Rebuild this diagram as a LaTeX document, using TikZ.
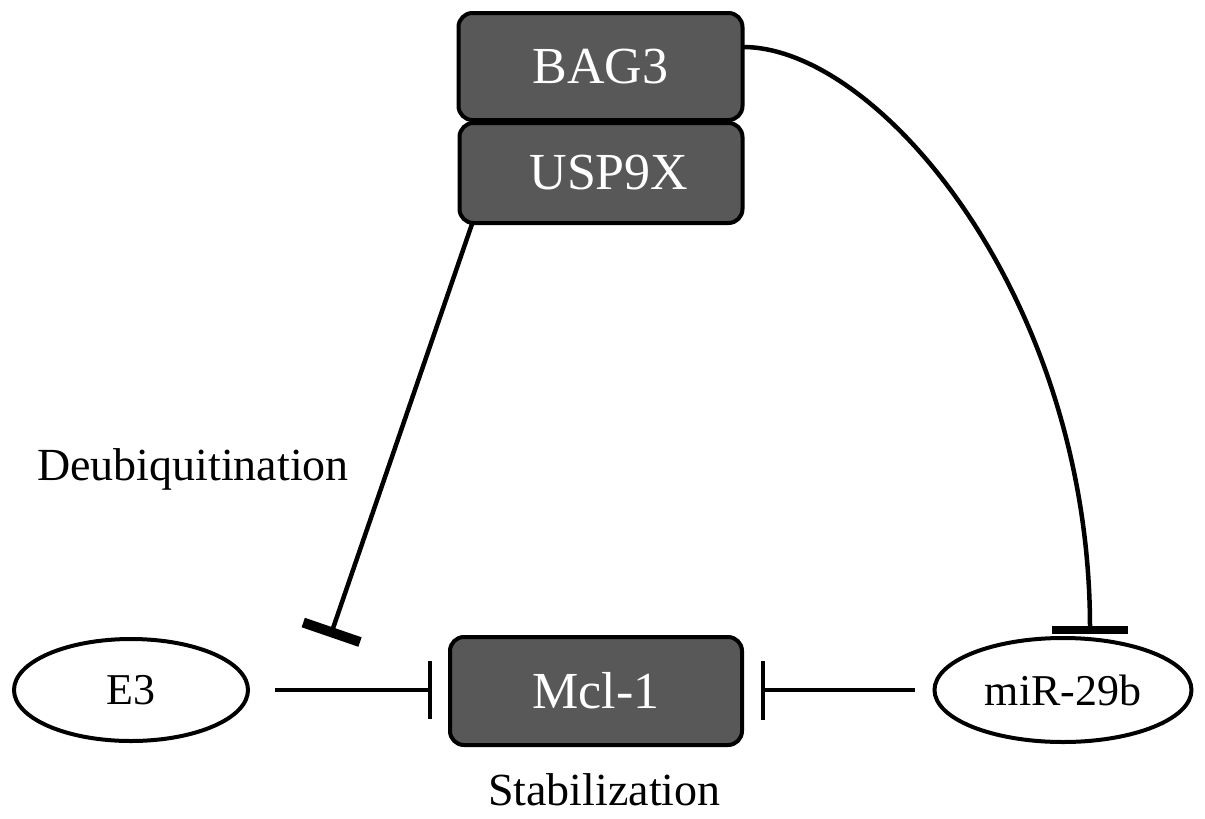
\documentclass[tikz,border=0pt]{standalone}
\usepackage{fontspec}
\setmainfont{Liberation Serif}
\usetikzlibrary{shapes.geometric,arrows.meta}
\definecolor{boxgray}{RGB}{88,88,88}
\tikzset{
  protbox/.style={draw=black, line width=4pt, fill=boxgray, rounded corners=14pt,
    text=white, font=\fontsize{52}{60}\selectfont, inner sep=0pt},
  rnaell/.style={draw=black, line width=4pt, ellipse, fill=white,
    font=\fontsize{44}{52}\selectfont, inner sep=0pt},
  conn/.style={line width=4.5pt, black},
  lbl/.style={font=\fontsize{46}{54}\selectfont, inner sep=0pt, anchor=base west}
}
\begin{document}
\begin{tikzpicture}[x=1pt,y=-1pt]
\useasboundingbox (0,0) rectangle (1205,819);
\fill[white] (0,0) rectangle (1205,819);

\node[protbox, minimum width=284pt, minimum height=107pt] (bag) at (600.5,66.5) {BAG3};
\node[protbox, minimum width=283pt, minimum height=100pt] (usp) at (601,173) {\hspace*{16pt}USP9X};
\node[protbox, minimum width=292pt, minimum height=108pt] (mcl) at (596,691) {Mcl-1};
\node[rnaell, minimum width=234pt, minimum height=102pt] (e3) at (131,690) {E3};
\node[rnaell, minimum width=257pt, minimum height=104pt] (mir) at (1063,690) {miR-29b};

\node[lbl] (deub) at (37,480) {Deubiquitination};
\node[lbl] (stab) at (488,805) {Stabilization};

\coordinate (uspstart) at (472,224);
\coordinate (uspend) at (330,637);
\coordinate (bagstart) at (743,47);
\coordinate (mirend) at (1090,634);

% USP9X inhibits the E3 -> Mcl-1 step
\draw[conn, -{Bar[width=60pt, line width=10pt 0]}] (uspstart) -- (uspend);
% E3 -| Mcl-1
\draw[conn, shorten <=25pt, shorten >=16pt, -{Bar[width=58pt, line width=4pt 0]}]
  (e3.east) -- (e3.east -| mcl.west);
% miR-29b -| Mcl-1
\draw[conn, shorten <=18pt, shorten >=17pt, -{Bar[width=59pt, line width=4pt 0]}]
  (mir.west) -- (mir.west -| mcl.east);
% BAG3 -| miR-29b
\draw[conn, -{Bar[width=76pt, line width=8pt 0]}]
  (bagstart) .. controls (880,47) and (1090,300) .. (mirend);
\end{tikzpicture}
\end{document}
